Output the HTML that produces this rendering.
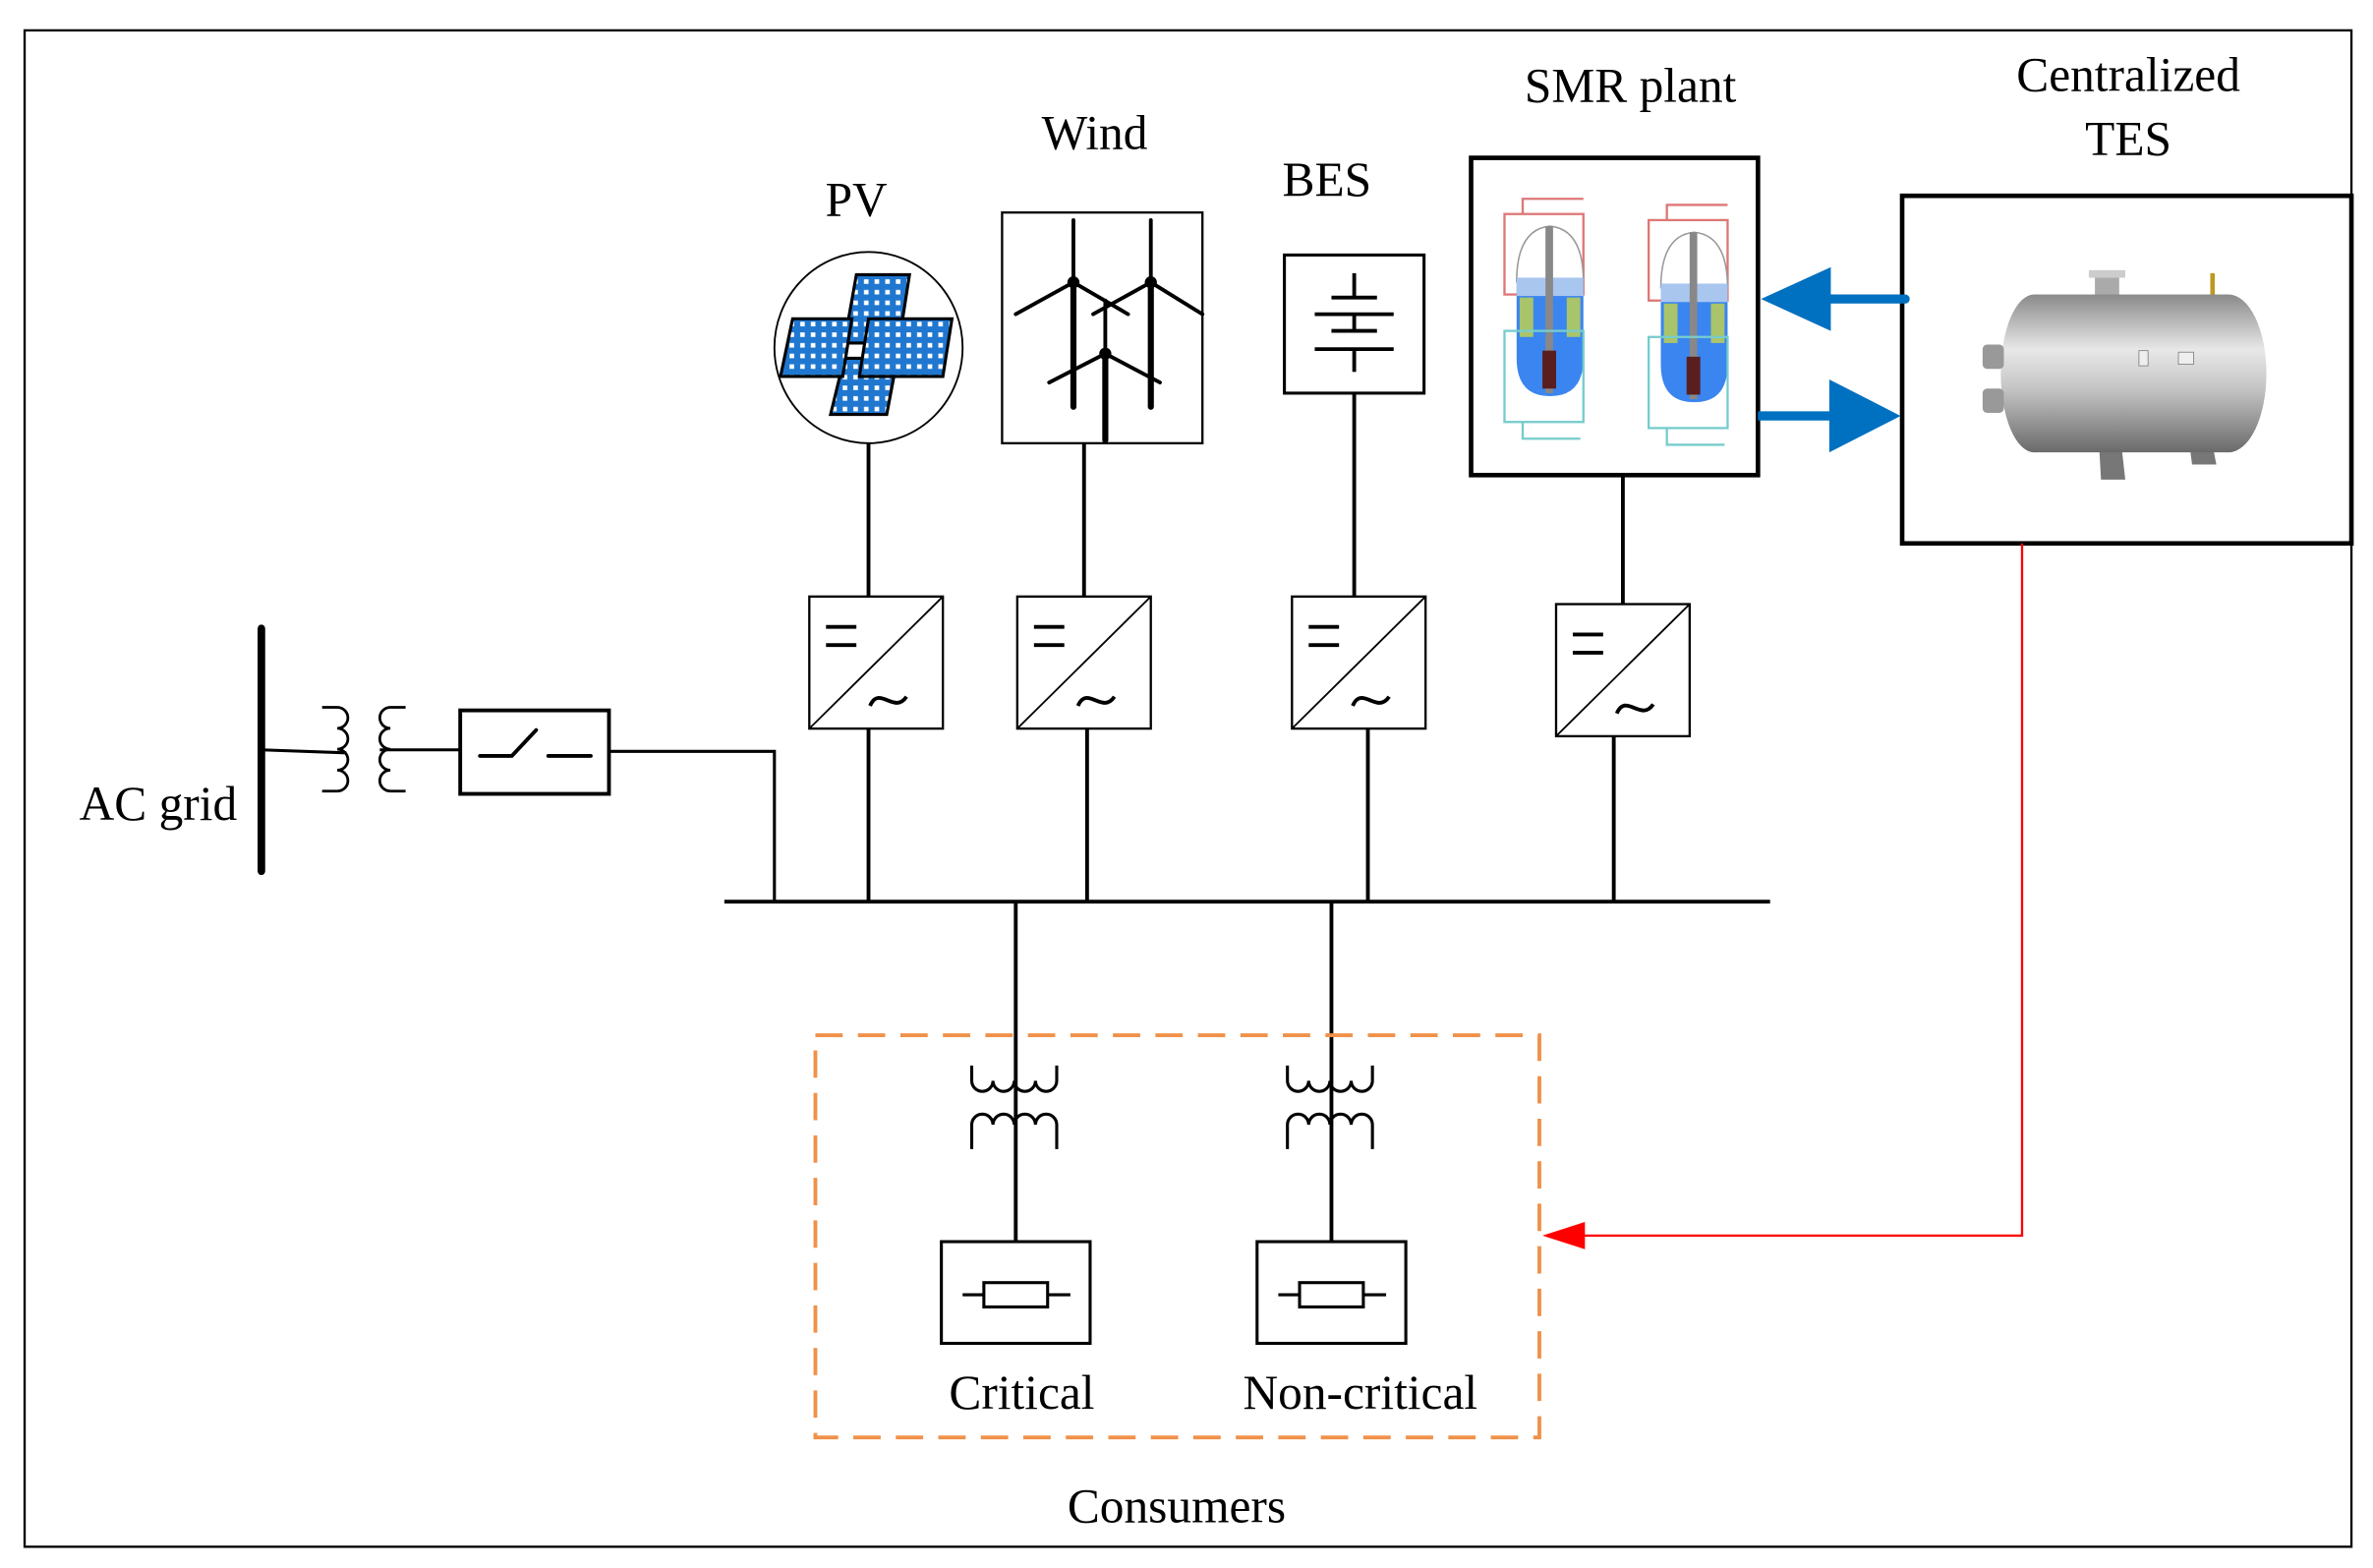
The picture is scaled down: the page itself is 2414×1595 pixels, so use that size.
<!DOCTYPE html>
<html><head><meta charset="utf-8"><style>
html,body{margin:0;padding:0;background:#fff;}
svg{display:block;}
text{font-family:"Liberation Serif",serif;font-size:32px;fill:#000;}
</style></head><body>
<svg width="2414" height="1595" viewBox="0 0 1563 1033" xmlns="http://www.w3.org/2000/svg">
<defs>
<pattern id="cells" width="7" height="7" patternUnits="userSpaceOnUse">
<rect width="7" height="7" fill="#1f77d0"/><rect x="2" y="2" width="3" height="3" fill="#fff"/>
</pattern>
<linearGradient id="tank" x1="0" y1="0" x2="0" y2="1">
<stop offset="0" stop-color="#8a8a8a"/><stop offset="0.35" stop-color="#e8e8e8"/><stop offset="0.6" stop-color="#c4c4c4"/><stop offset="1" stop-color="#6a6a6a"/>
</linearGradient>
<g id="conv">
<rect x="0" y="0" width="88" height="87" fill="#fff" stroke="#000" stroke-width="1.5"/>
<line x1="0" y1="87" x2="88" y2="0" stroke="#000" stroke-width="1.2"/>
<line x1="11" y1="20" x2="31" y2="20" stroke="#000" stroke-width="2.5"/>
<line x1="11" y1="32" x2="31" y2="32" stroke="#000" stroke-width="2.5"/>
<path d="M40,72 C46,58 56,78 64,66" fill="none" stroke="#000" stroke-width="2.5"/>
</g>
<g id="xf">
<path d="M-29,0 v10 a7,7 0 0 0 14,0 a7,7 0 0 0 14,0 a7,7 0 0 0 14,0 a7,7 0 0 0 14,0 v-10" fill="none" stroke="#000" stroke-width="2"/>
<path d="M-29,55 v-16 a7,7 0 0 1 14,0 a7,7 0 0 1 14,0 a7,7 0 0 1 14,0 a7,7 0 0 1 14,0 v16" fill="none" stroke="#000" stroke-width="2"/>
</g>
<g id="reactor">
<path d="M12,10 V0 H52" fill="none" stroke="#d77" stroke-width="1.5"/>
<rect x="0" y="10" width="52" height="53" fill="none" stroke="#d77" stroke-width="1.5"/>
<path d="M8,55 Q8,20 30,18 Q52,20 52,55" fill="#fff" stroke="#999" stroke-width="1"/>
<path d="M8,52 H52 V105 Q52,130 30,130 Q8,130 8,105 Z" fill="#3a85f0"/>
<rect x="8" y="52" width="44" height="12" fill="#a9c6ef"/>
<rect x="10" y="65" width="9" height="26" fill="#a9c46a"/>
<rect x="41" y="65" width="9" height="26" fill="#a9c46a"/>
<rect x="27" y="18" width="5" height="110" fill="#888"/>
<rect x="25" y="100" width="9" height="25" fill="#5a1e1e"/>
<rect x="0" y="87" width="52" height="60" fill="none" stroke="#7cc" stroke-width="1.5"/>
<path d="M12,147 V158 H50" fill="none" stroke="#7cc" stroke-width="1.5"/>
</g>
</defs>
<rect x="16" y="20" width="1533" height="999" fill="none" stroke="#000" stroke-width="1.5"/>

<text x="564" y="142" text-anchor="middle">PV</text>
<text x="721" y="98" text-anchor="middle">Wind</text>
<text x="874" y="129" text-anchor="middle">BES</text>
<text x="1074" y="67" text-anchor="middle">SMR plant</text>
<text x="1402" y="60" text-anchor="middle">Centralized</text>
<text x="1402" y="102" text-anchor="middle">TES</text>
<text x="104" y="540" text-anchor="middle">AC grid</text>
<text x="673" y="928" text-anchor="middle">Critical</text>
<text x="896" y="928" text-anchor="middle">Non-critical</text>
<text x="775" y="1003" text-anchor="middle">Consumers</text>

<!-- PV -->
<ellipse cx="572" cy="229" rx="62" ry="63" fill="#fff" stroke="#000" stroke-width="1.2"/>
<g stroke="#000" stroke-width="2" fill="url(#cells)">
<polygon points="564,181 599,181 592,226 556,226"/>
<polygon points="556,236 591,236 584,273 547,273"/>
<polygon points="522,210 561,210 555,248 514,248"/>
<polygon points="572,210 627,210 621,248 566,248"/>
</g>

<!-- Wind -->
<rect x="660" y="140" width="132" height="152" fill="#fff" stroke="#000" stroke-width="1.5"/>
<g stroke="#000" stroke-linecap="round">
<line x1="707" y1="186" x2="707" y2="268" stroke-width="4"/>
<line x1="758" y1="186" x2="758" y2="268" stroke-width="4"/>
<line x1="728" y1="233" x2="728" y2="290" stroke-width="4"/>
<line x1="707" y1="186" x2="707" y2="145" stroke-width="2.5"/>
<line x1="707" y1="186" x2="669" y2="207" stroke-width="2.5"/>
<line x1="707" y1="186" x2="743" y2="207" stroke-width="2.5"/>
<line x1="758" y1="186" x2="758" y2="145" stroke-width="2.5"/>
<line x1="758" y1="186" x2="720" y2="207" stroke-width="2.5"/>
<line x1="758" y1="186" x2="792" y2="207" stroke-width="2.5"/>
<line x1="728" y1="233" x2="728" y2="198" stroke-width="2.5"/>
<line x1="728" y1="233" x2="691" y2="252" stroke-width="2.5"/>
<line x1="728" y1="233" x2="764" y2="252" stroke-width="2.5"/>
</g>
<circle cx="707" cy="186" r="4"/><circle cx="758" cy="186" r="4"/><circle cx="728" cy="233" r="4"/>

<!-- BES -->
<rect x="846" y="168" width="92" height="91" fill="#fff" stroke="#000" stroke-width="2"/>
<g stroke="#000" stroke-width="2.5">
<line x1="892" y1="180" x2="892" y2="196"/>
<line x1="877" y1="196" x2="907" y2="196"/>
<line x1="866" y1="207" x2="918" y2="207"/>
<line x1="892" y1="207" x2="892" y2="218"/>
<line x1="877" y1="218" x2="907" y2="218"/>
<line x1="866" y1="230" x2="918" y2="230"/>
<line x1="892" y1="230" x2="892" y2="245"/>
</g>

<!-- SMR -->
<rect x="969" y="104" width="189" height="209" fill="#fff" stroke="#000" stroke-width="3"/>
<use href="#reactor" x="991" y="131"/>
<use href="#reactor" x="1086" y="135"/>

<!-- TES -->
<rect x="1253" y="129" width="296" height="229" fill="#fff" stroke="#000" stroke-width="3"/>
<g>
<polygon points="1382,280 1396,280 1400,316 1384,316" fill="#777"/>
<polygon points="1440,275 1454,275 1460,306 1444,306" fill="#777"/>
<rect x="1380" y="180" width="16" height="18" fill="#aaa"/>
<rect x="1376" y="178" width="24" height="5" fill="#ccc"/>
<rect x="1456" y="180" width="3" height="18" fill="#b92"/>
<rect x="1340" y="194" width="128" height="104" fill="url(#tank)"/>
<ellipse cx="1468" cy="246" rx="25" ry="52" fill="url(#tank)"/>
<ellipse cx="1340" cy="246" rx="22" ry="52" fill="url(#tank)"/>
<rect x="1306" y="227" width="14" height="16" rx="3" fill="#999"/>
<rect x="1306" y="256" width="14" height="16" rx="3" fill="#999"/>
<rect x="1409" y="231" width="6" height="10" fill="#eee" stroke="#777" stroke-width="0.5"/>
<rect x="1435" y="232" width="10" height="8" fill="#eee" stroke="#777" stroke-width="0.5"/>
</g>

<!-- blue arrows -->
<line x1="1255" y1="197" x2="1205" y2="197" stroke="#0070c0" stroke-width="6" stroke-linecap="round"/>
<polygon points="1160,197 1206,176 1206,218" fill="#0070c0"/>
<line x1="1158" y1="274" x2="1210" y2="274" stroke="#0070c0" stroke-width="6"/>
<polygon points="1252,274 1205,250 1205,298" fill="#0070c0"/>

<!-- red arrow -->
<polyline points="1332,358 1332,814 1040,814" fill="none" stroke="#f00" stroke-width="1.5"/>
<polygon points="1016,814 1044,805 1044,823" fill="#f00"/>

<g stroke="#000" stroke-width="2.5">
<line x1="572" y1="292" x2="572" y2="393"/>
<line x1="714" y1="292" x2="714" y2="393"/>
<line x1="892" y1="259" x2="892" y2="393"/>
<line x1="1069" y1="313" x2="1069" y2="398"/>
<line x1="572" y1="480" x2="572" y2="594"/>
<line x1="716" y1="480" x2="716" y2="594"/>
<line x1="901" y1="480" x2="901" y2="594"/>
<line x1="1063" y1="485" x2="1063" y2="594"/>
<line x1="477" y1="594" x2="1166" y2="594"/>
<line x1="669" y1="594" x2="669" y2="818"/>
<line x1="877" y1="594" x2="877" y2="818"/>
</g>
<use href="#conv" x="533" y="393"/>
<use href="#conv" x="670" y="393"/>
<use href="#conv" x="851" y="393"/>
<use href="#conv" x="1025" y="398"/>

<!-- AC grid -->
<line x1="172" y1="414" x2="172" y2="574" stroke="#000" stroke-width="5" stroke-linecap="round"/>
<line x1="172" y1="494" x2="228" y2="496" stroke="#000" stroke-width="2"/>
<path d="M212,466 H222 a7,6.9 0 0 1 0,13.8 a7,6.9 0 0 1 0,13.8 a7,6.9 0 0 1 0,13.8 a7,6.9 0 0 1 0,13.8 H212" fill="none" stroke="#000" stroke-width="1.8"/>
<path d="M267,466 H257 a7,6.9 0 0 0 0,13.8 a7,6.9 0 0 0 0,13.8 a7,6.9 0 0 0 0,13.8 a7,6.9 0 0 0 0,13.8 H267" fill="none" stroke="#000" stroke-width="1.8"/>
<line x1="250" y1="494" x2="303" y2="494" stroke="#000" stroke-width="2"/>
<rect x="303" y="468" width="98" height="55" fill="#fff" stroke="#000" stroke-width="2.5"/>
<polyline points="316,498 337,498 353,481" fill="none" stroke="#000" stroke-width="2.5" stroke-linecap="round"/>
<line x1="361" y1="498" x2="389" y2="498" stroke="#000" stroke-width="2.5" stroke-linecap="round"/>
<polyline points="401,495 510,495 510,594" fill="none" stroke="#000" stroke-width="2"/>

<!-- consumers -->
<rect x="537" y="682" width="477" height="265" fill="none" stroke="#f0914a" stroke-width="2.5" stroke-dasharray="18,10"/>
<use href="#xf" x="669" y="702"/>
<use href="#xf" x="877" y="702"/>
<g stroke="#000" fill="#fff">
<rect x="620" y="818" width="98" height="67" stroke-width="2"/>
<rect x="828" y="818" width="98" height="67" stroke-width="2"/>
<rect x="648" y="845" width="42" height="16" stroke-width="2"/>
<rect x="856" y="845" width="42" height="16" stroke-width="2"/>
<line x1="634" y1="853" x2="648" y2="853" stroke-width="2"/>
<line x1="690" y1="853" x2="705" y2="853" stroke-width="2"/>
<line x1="842" y1="853" x2="856" y2="853" stroke-width="2"/>
<line x1="898" y1="853" x2="913" y2="853" stroke-width="2"/>
</g>
</svg>
</body></html>
